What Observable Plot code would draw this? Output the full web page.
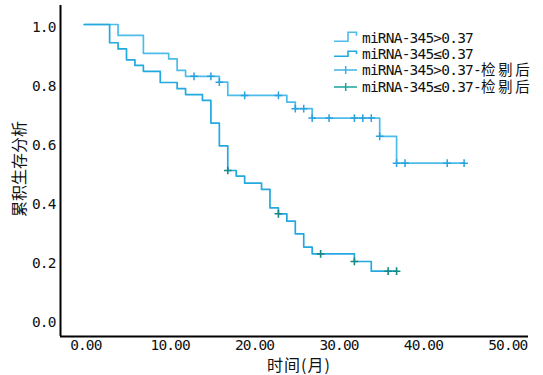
<!DOCTYPE html>
<html>
<head>
<meta charset="utf-8">
<script src="https://cdn.jsdelivr.net/npm/d3@7"></script>
<script src="https://cdn.jsdelivr.net/npm/@observablehq/plot@0.6"></script>
<style>
  html, body { margin: 0; padding: 0; background: #fff; }
  #wrap { position: relative; width: 543px; height: 375px; }
  #overlay { position: absolute; left: 0; top: 0; pointer-events: none; }
</style>
</head>
<body>
<div id="wrap"></div>
<script>
// ---- data ----
const seriesNames = ["miRNA-345>0.37", "miRNA-345≤0.37"];
const censorNames = ["miRNA-345>0.37-检剔后", "miRNA-345≤0.37-检剔后"];

const g1EventTimes = [4, 7, 10, 11, 12, 16, 17, 24, 25, 27, 35, 37];
const g1Survival   = [0.963, 0.902, 0.883, 0.844, 0.824, 0.804, 0.759, 0.736, 0.714, 0.682, 0.620, 0.529];
const g1CensorTimes = [13, 15, 16, 19, 23, 25, 26, 27, 29, 32, 33, 34, 35, 37, 38, 43, 45];

const g2EventTimes = [3, 4, 5, 6, 7, 9, 11, 12, 14, 15, 16, 17, 18, 19, 21, 22, 23, 24, 25, 26, 27, 32, 34];
const g2Survival   = [0.938, 0.917, 0.880, 0.861, 0.841, 0.803, 0.782, 0.762, 0.742, 0.665, 0.588, 0.504, 0.485, 0.461, 0.440, 0.377, 0.357, 0.332, 0.289, 0.244, 0.221, 0.195, 0.162];
const g2CensorTimes = [17, 23, 28, 32, 36, 37];

const xTicks = [0, 10, 20, 30, 40, 50];
const yTicks = [0, 0.2, 0.4, 0.6, 0.8, 1.0];
const xTitle = "时间(月)";
const yTitle = "累积生存分析";

// ---- styling ----
const lineColors = ["#4cbdea", "#22a9e0"];
const censorColors = ["#2aa2de", "#148a84"];
const legendCensorColors = ["#3cb4e8", "#1aa39c"];
const xDomain = [-2.82, 52.63];
const yDomain = [-0.0598, 1.0645];
const monoFont = "'DejaVu Sans Mono', 'Noto Sans CJK SC', monospace";
const cjkFont = "'Noto Sans CJK SC', sans-serif";

function stepData(times, surv, censors, group) {
  const pts = [{t: 0, s: 1, group}];
  times.forEach((t, i) => pts.push({t, s: surv[i], group}));
  const last = Math.max(times[times.length - 1], d3.max(censors));
  pts.push({t: last, s: surv[surv.length - 1], group});
  return pts;
}
function survAt(times, surv, t) {
  let s = 1;
  times.forEach((e, i) => { if (e <= t) s = surv[i]; });
  return s;
}
const line1 = stepData(g1EventTimes, g1Survival, g1CensorTimes, 0);
const line2 = stepData(g2EventTimes, g2Survival, g2CensorTimes, 1);
const cens1 = g1CensorTimes.map(t => ({t, s: survAt(g1EventTimes, g1Survival, t)}));
const cens2 = g2CensorTimes.map(t => ({t, s: survAt(g2EventTimes, g2Survival, t)}));

const chart = Plot.plot({
  width: 543,
  height: 375,
  marginLeft: 60,
  marginRight: 15,
  marginTop: 5,
  marginBottom: 39,
  style: {fontFamily: monoFont, fontSize: "14.5px", letterSpacing: "-0.9px", color: "#111", background: "#fff"},
  x: {domain: xDomain},
  y: {domain: yDomain},
  marks: [
    Plot.line(line1, {x: "t", y: "s", curve: "step-after", stroke: lineColors[0], strokeWidth: 1.7}),
    Plot.line(line2, {x: "t", y: "s", curve: "step-after", stroke: lineColors[1], strokeWidth: 1.7}),
    Plot.dot(cens1, {x: "t", y: "s", symbol: "plus", r: 2.6, stroke: censorColors[0], strokeWidth: 1.5}),
    Plot.dot(cens2, {x: "t", y: "s", symbol: "plus", r: 2.6, stroke: censorColors[1], strokeWidth: 1.6}),
    Plot.axisX({ticks: xTicks, tickSize: 0, tickPadding: 3, tickFormat: d3.format(".2f"), label: null, dx: 1.5, fill: "#111"}),
    Plot.axisY({ticks: yTicks, tickSize: 0, tickPadding: 5, tickFormat: d3.format(".1f"), label: null, dy: 3, fill: "#111"}),
    Plot.ruleX([xDomain[0]], {stroke: "#000", strokeWidth: 2}),
    Plot.ruleY([yDomain[0]], {stroke: "#000", strokeWidth: 2})
  ]
});
document.getElementById("wrap").appendChild(chart);

// ---- overlay: axis titles + legend ----
const ov = d3.select("#wrap").append("svg")
  .attr("id", "overlay").attr("width", 543).attr("height", 375);

ov.append("text")
  .attr("transform", "translate(19,169) rotate(-90)")
  .attr("text-anchor", "middle").attr("dy", "0.35em")
  .style("font-family", cjkFont).style("font-size", "16px").attr("fill", "#111")
  .text(yTitle);
ov.append("text")
  .attr("x", 299).attr("y", 365)
  .attr("text-anchor", "middle").attr("dy", "0.35em")
  .style("font-family", cjkFont).style("font-size", "16px").style("letter-spacing", "1px").attr("fill", "#111")
  .text(xTitle);

const lg = ov.append("g");
const rowY = [38.3, 53.5, 70.0, 87.0];
// step icons
lg.append("path").attr("d", "M334,41.3H348V32.3H356.5V35.8")
  .attr("fill", "none").attr("stroke", lineColors[0]).attr("stroke-width", 1.6);
lg.append("path").attr("d", "M334,56.3H348V51.3H356.5V54")
  .attr("fill", "none").attr("stroke", lineColors[1]).attr("stroke-width", 1.6);
// censor icons
[0, 1].forEach(i => {
  const y = rowY[2 + i];
  lg.append("path").attr("d", `M334,${y}H357M345.7,${y - 4}V${y + 4}`)
    .attr("fill", "none").attr("stroke", legendCensorColors[i]).attr("stroke-width", 1.5);
});
const labels = [...seriesNames, ...censorNames];
labels.forEach((txt, i) => {
  const t = lg.append("text").attr("x", 362).attr("y", rowY[i]).attr("dy", "0.35em")
    .style("font-family", monoFont).style("font-size", "14.5px").style("letter-spacing", "-0.8px").attr("fill", "#111");
  // split latin and CJK runs so the CJK glyphs get their own spacing
  const parts = txt.split(/([\u4e00-\u9fff]+)/).filter(p => p.length);
  parts.forEach(p => {
    const isCjk = /[\u4e00-\u9fff]/.test(p);
    t.append("tspan")
      .style("letter-spacing", isCjk ? "2.6px" : "-0.8px")
      .text(p);
  });
});
</script>
</body>
</html>
